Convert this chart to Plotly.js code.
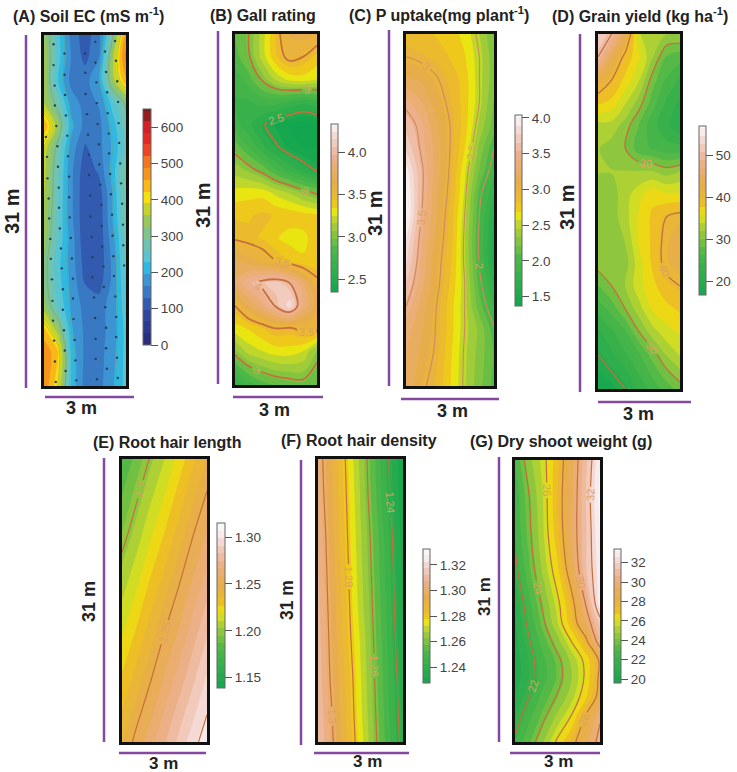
<!DOCTYPE html>
<html><head><meta charset="utf-8">
<script src="https://cdn.plot.ly/plotly-3.0.1.min.js"></script>
<style>html,body{margin:0;padding:0;background:#fff}#c{width:737px;height:772px}</style>
</head><body><div id="c"></div>
<script>
const W=737,H=772;
const xM=[0,0.5,1,1.5,2,2.5,3];
const yLong=[0,2,4,6,8,10,12,14,16,18,20,22,24,26,28,31];
const yFour=[0,4,8,12,16,20,24,28,31];
const yG=[0,4,8,12,16,18,20,22,24,26,28,31];

const zA=[
[340,240,150,115,150,290,470],
[350,245,160,120,160,345,500],
[350,230,150,150,190,340,450],
[360,280,180,150,165,240,310],
[450,340,205,150,150,210,280],
[380,285,180,125,150,200,270],
[370,270,170,110,135,210,300],
[360,265,170,105,110,195,300],
[350,260,170,105,105,195,290],
[340,255,180,105,105,180,280],
[320,240,180,115,105,170,270],
[320,245,185,130,115,170,260],
[340,260,190,150,150,175,250],
[430,340,200,155,150,175,240],
[480,430,215,155,150,180,240],
[480,400,220,150,150,190,240]];
const zB=[
[2.9,3.0,3.2,3.45,3.62,3.65,3.6],
[2.85,2.98,3.2,3.42,3.55,3.5,3.4],
[2.75,2.85,3.02,3.18,3.28,3.3,3.25],
[2.7,2.7,2.75,2.75,2.7,2.65,2.7],
[2.75,2.65,2.52,2.42,2.35,2.3,2.35],
[2.95,2.8,2.65,2.52,2.42,2.35,2.35],
[3.12,3.05,2.95,2.8,2.68,2.58,2.48],
[3.28,3.3,3.3,3.22,3.15,3.05,2.97],
[3.42,3.42,3.45,3.42,3.4,3.38,3.35],
[3.48,3.45,3.42,3.35,3.3,3.32,3.38],
[3.7,3.65,3.58,3.5,3.42,3.35,3.35],
[3.8,3.95,4.05,4.1,4.0,3.8,3.55],
[3.5,3.7,3.85,4.02,4.2,3.85,3.65],
[3.3,3.35,3.42,3.5,3.48,3.55,3.55],
[3.05,3.2,3.25,3.3,3.3,3.25,3.05],
[2.6,2.75,2.85,2.9,2.93,2.95,2.9]];
const zC=[
[2.85,2.85,2.8,2.75,2.65,2.45,2.2],
[3.0,2.95,2.9,2.8,2.7,2.5,2.25],
[3.2,3.15,3.03,2.9,2.75,2.5,2.25],
[3.45,3.3,3.12,2.95,2.75,2.5,2.2],
[3.6,3.45,3.2,3.0,2.75,2.42,2.15],
[3.75,3.48,3.25,3.0,2.7,2.3,2.0],
[3.95,3.55,3.25,2.98,2.6,2.2,1.9],
[4.05,3.55,3.22,2.95,2.55,2.05,1.75],
[4.05,3.52,3.2,2.9,2.5,2.0,1.6],
[3.9,3.45,3.15,2.88,2.47,1.97,1.55],
[3.8,3.4,3.1,2.85,2.47,1.98,1.55],
[3.65,3.35,3.08,2.8,2.5,2.05,1.7],
[3.5,3.25,3.02,2.75,2.5,2.15,1.85],
[3.35,3.2,3.0,2.75,2.5,2.3,2.02],
[3.3,3.15,2.98,2.72,2.48,2.28,2.08],
[3.3,3.05,2.92,2.7,2.47,2.25,2.05]];
const zD=[
[53,50,44,34,32,32,32],
[50,44,39,36,32,28,27],
[43,40,37,34,29,26,24],
[38,37,34,31,27,24,22],
[33,33,31,28,25,23,21],
[32,31,30,27,26,25,25],
[32,32,32,32,32,31,32],
[31,31,33,35,37,36,36],
[31,31,33,36,38,40,41],
[31,31,32,36,38,41,43],
[31,31,31,35,38,41,43],
[28,30,32,35,37,39,40],
[25,27,30,33,36,37,38],
[22,24,26,30,33,35,36],
[20,22,24,26,29,32,34],
[17,18,20,23,25,27,29]];
const zE=[
[1.179,1.190,1.201,1.211,1.222,1.233,1.243],
[1.187,1.198,1.209,1.219,1.230,1.241,1.251],
[1.195,1.206,1.217,1.227,1.238,1.249,1.259],
[1.204,1.214,1.225,1.235,1.246,1.257,1.267],
[1.212,1.222,1.233,1.244,1.254,1.265,1.276],
[1.220,1.230,1.241,1.252,1.262,1.273,1.284],
[1.228,1.238,1.249,1.260,1.270,1.281,1.292],
[1.236,1.247,1.257,1.268,1.279,1.289,1.300],
[1.242,1.253,1.264,1.274,1.285,1.296,1.306]];
const zF=[
[1.304,1.292,1.279,1.266,1.253,1.240,1.228],
[1.305,1.293,1.280,1.267,1.254,1.241,1.229],
[1.307,1.294,1.281,1.268,1.256,1.243,1.230],
[1.308,1.295,1.282,1.269,1.257,1.244,1.231],
[1.309,1.296,1.283,1.270,1.258,1.245,1.232],
[1.310,1.297,1.284,1.272,1.259,1.246,1.233],
[1.311,1.298,1.286,1.273,1.260,1.247,1.235],
[1.312,1.300,1.287,1.274,1.261,1.248,1.236],
[1.313,1.301,1.288,1.275,1.262,1.249,1.237]];
const zG=[
[22.9,24.6,25.7,27.2,29.1,31.1,33.2],
[22.4,24,25.5,27.4,29.2,31.3,33.5],
[22.2,23.8,25.4,27.2,29.3,31.2,33.3],
[21.7,23.4,25,26.6,28.8,31.2,33],
[21,22.6,24.2,25.7,27.5,30,32.9],
[20.8,22.3,23.8,25.4,27.2,29.2,31.5],
[20.7,21.9,23.2,24.5,26,27.6,30.7],
[20.5,21.6,22.7,23.7,25,26.3,28.2],
[20.5,21.6,22.6,23.6,24.8,26.2,28.3],
[20.9,22,23.1,24.1,25.2,26.6,28.5],
[21.4,22.6,23.7,24.9,26,28,29.8],
[22.2,23.4,24.8,26.2,27.6,29,30.4]];

const dotX=[.35,.75,.35,.75,.39,.77,.40,.80,.45,.85,.07,.49,1.5,1.51,1.52,1.57,1.61,1.88,1.88,1.92,1.93,1.96,2.01,2.23,2.27,2.31,2.33,2.37,2.6,2.63,2.68,2.71,2.73,2.75,
.11,.51,.13,.54,.17,.55,.19,.58,.23,.62,.25,.65,.88,.92,.92,.94,.98,1.02,1.64,1.65,1.69,1.7,1.74,1.77,2.02,2.06,2.1,2.11,2.13,2.18,2.38,2.42,2.45,2.49,2.51,2.54,2.79,2.82,2.86,2.89,2.9,2.93,
.29,.69,.31,.69,.33,.73,.37,.76,.4,.79,.43,1.06,1.06,1.08,1.12,1.15,1.18,1.77,1.83,1.87,1.89,1.89,1.94,2.19,2.24,2.27,2.27,2.3,2.56,2.61,2.64,2.64,2.67,2.7];
const dotY=[.82,1.64,2.66,3.51,4.47,5.29,6.23,7.11,8.04,8.89,9,9.82,1.64,3.33,5.2,6.99,8.8,.61,2.43,4.18,6.02,7.87,9.65,1.46,3.27,5.06,6.9,8.71,.53,2.28,4.09,5.91,7.78,9.53,
10.76,11.64,12.66,13.48,14.44,15.26,16.2,17.08,18.01,18.86,19.77,20.61,10.7,12.51,14.33,16.11,17.92,19.74,10.58,12.37,14.18,16.02,17.84,19.62,11.43,13.22,15,16.87,18.68,20.44,10.47,12.28,14.06,15.88,17.72,19.53,11.35,13.1,14.91,16.75,18.57,20.35,
21.58,22.46,23.48,24.27,25.23,26.08,26.99,27.87,28.83,29.68,30.64,21.52,23.27,25.09,26.93,28.74,30.5,21.4,23.19,25,26.84,28.6,30.41,22.25,24.04,25.85,27.67,29.47,21.29,23.1,24.91,26.67,28.51,30.29];

const jet=[[0,'#262a78'],[0.077,'#2c3a8e'],[0.154,'#2f4ea5'],[0.23,'#3a7bc4'],[0.27,'#3f8fd0'],[0.308,'#29b5e6'],[0.346,'#3cbcd8'],[0.385,'#62c5cf'],[0.46,'#78c29a'],[0.54,'#a2c84a'],[0.577,'#c8d42a'],[0.615,'#f4e80e'],[0.654,'#fbc814'],[0.692,'#f8a91c'],[0.77,'#f47a20'],[0.81,'#ee5224'],[0.846,'#ed2f24'],[0.923,'#d51f26'],[0.96,'#a81e22'],[1,'#701818']];
const terrain=[[0,'#12a650'],[0.25,'#4db748'],[0.38,'#9ccb3b'],[0.44,'#c5d92b'],[0.48,'#ece60f'],[0.53,'#eec31d'],[0.6,'#e9b53a'],[0.67,'#e8ac4e'],[0.8,'#edb08e'],[0.92,'#f3d6d0'],[1,'#f8f6f6']];

// panel: frame l,r,t,b; colourbar l,w,t,b
const panels=[
 {id:'',  z:zA,y:yLong,lo:0,hi:650,step:32.5,cs:jet,box:[44,126,35,386],cb:[143,8,109,345],tv:[0,100,200,300,400,500,600],tt:['0','100','200','300','400','500','600'],ls:200,le:500,lstep:100,lc:'rgba(120,150,90,0.55)',lw:0.8,lab:false},
 {id:'2', z:zB,y:yLong,lo:2.35,hi:4.33,step:0.09,cs:terrain,box:[235,317,34,385],cb:[331,7,124,292],tv:[2.5,3,3.5,4],tt:['2.5','3.0','3.5','4.0'],ls:2.5,le:4.001,lstep:0.5,lc:'#c56f3e',lw:1.8,lab:true},
 {id:'3', z:zC,y:yLong,lo:1.37,hi:4.04,step:0.12,cs:terrain,box:[406,494,34,386],cb:[515,7,115,306],tv:[1.5,2,2.5,3,3.5,4],tt:['1.5','2.0','2.5','3.0','3.5','4.0'],ls:2,le:3.501,lstep:0.5,lc:'#cf8a5a',lw:1.1,lab:true},
 {id:'4', z:zD,y:yLong,lo:16.7,hi:57,step:1.9,cs:terrain,box:[598,680,34,389],cb:[699,7,126,295],tv:[20,30,40,50],tt:['20','30','40','50'],ls:20,le:50,lstep:10,lc:'#c56f3e',lw:1.3,lab:true},
 {id:'5', z:zE,y:yFour,lo:1.139,hi:1.315,step:0.008,cs:terrain,box:[122,207,459,742],cb:[217,8,523,688],tv:[1.15,1.2,1.25,1.3],tt:['1.15','1.20','1.25','1.30'],ls:1.2,le:1.3001,lstep:0.05,lc:'#c56f3e',lw:1.2,lab:true},
 {id:'6', z:zF,y:yFour,lo:1.2275,hi:1.3325,step:0.005,cs:terrain,box:[318,403,459,742],cb:[423,7,549,683],tv:[1.24,1.26,1.28,1.3,1.32],tt:['1.24','1.26','1.28','1.30','1.32'],ls:1.24,le:1.3001,lstep:0.02,lc:'#c56f3e',lw:1.2,lab:true},
 {id:'7', z:zG,y:yG,lo:19.6,hi:33.4,step:0.65,cs:terrain,box:[515,600,460,742],cb:[614,7,549,683],tv:[20,22,24,26,28,30,32],tt:['20','22','24','26','28','30','32'],ls:22,le:32.01,lstep:2,lc:'#c56f3e',lw:1.2,lab:true}
];
const titles=[
 ['(A) Soil EC (mS m<sup>-1</sup>)',11,15],['(B) Gall rating',208,16],['(C) P uptake(mg plant<sup>-1</sup>)',347,14],['(D) Grain yield (kg ha<sup>-1</sup>)',550,15],
 ['(E) Root hair length',91,442],['(F) Root hair density',279,440],['(G) Dry shoot weight (g)',468,441]];
const side=[[12,211,20],[203,205,20],[375,213,20],[567,207,20],[89,602,18],[287,600,17.5],[484,597,17]];
const under=[[81,408,18],[274,410,18],[452,411,18],[638,414,18],[163,763,17],[367,761,17],[558,761,17]];
const vBars=[[26,35,388],[218,31,384],[389,30,386],[580,34,392],[104,458,742],[301,460,745],[499,457,742]];
const hBars=[[397,45,134],[397,233,323],[399,401,499],[402,598,691],[753,119,206],[753,314,409],[753,510,600]];

const FONT='"Liberation Sans",Arial,sans-serif';
const fx=p=>p/W, fy=p=>1-p/H;
const traces=[], layout={width:W,height:H,margin:{l:0,r:0,t:0,b:0,pad:0,autoexpand:false},paper_bgcolor:'#fff',plot_bgcolor:'#fff',showlegend:false,annotations:[],shapes:[],font:{family:FONT}};

panels.forEach(p=>{
  const [l,r,t,b]=p.box,[cl,cw,ct,cb]=p.cb;
  const xa='x'+p.id, ya='y'+p.id;
  traces.push({type:'contour',x:xM,y:p.y,z:p.z,xaxis:xa,yaxis:ya,zauto:false,zmin:p.lo,zmax:p.hi,colorscale:p.cs,autocontour:false,
    contours:{coloring:'fill',start:p.lo,end:p.hi,size:p.step,showlines:false},line:{width:0,smoothing:1},hoverinfo:'skip',
    colorbar:{x:fx(cl),xanchor:'left',xpad:0,y:fy(cb),yanchor:'bottom',ypad:0,len:cb-ct,lenmode:'pixels',thickness:cw,thicknessmode:'pixels',
      outlinecolor:'#666',outlinewidth:1,borderwidth:0,ticks:'outside',ticklen:7,tickwidth:1,tickcolor:'#555',tickmode:'array',tickvals:p.tv,ticktext:p.tt,
      tickfont:{family:FONT,size:13.5,color:'#444'}}});
  traces.push({type:'contour',x:xM,y:p.y,z:p.z,xaxis:xa,yaxis:ya,showscale:false,autocontour:false,hoverinfo:'skip',
    contours:{coloring:'none',start:p.ls,end:p.le,size:p.lstep,showlabels:p.lab,labelfont:{family:FONT,size:11,color:'#dfa15f'}},
    line:{color:p.lc,width:p.lw,smoothing:1}});
  const axis={showgrid:false,zeroline:false,showticklabels:false,ticks:'',showline:true,mirror:true,linecolor:'#111',linewidth:3};
  layout['xaxis'+p.id]=Object.assign({},axis,{domain:[fx(l),fx(r)],range:[0,3],anchor:ya});
  layout['yaxis'+p.id]=Object.assign({},axis,{domain:[fy(b),fy(t)],range:[31,0],anchor:xa});
});
traces.push({type:'scatter',mode:'markers',x:dotX,y:dotY,xaxis:'x',yaxis:'y',marker:{size:2.4,color:'#24405f'},hoverinfo:'skip'});

const ann=(text,x,y,size,extra)=>layout.annotations.push(Object.assign({text,xref:'paper',yref:'paper',x:fx(x),y:fy(y),showarrow:false,yanchor:'middle',xanchor:'center',font:{family:FONT,size,color:'#222'}},extra||{}));
titles.forEach(t=>ann('<b>'+t[0]+'</b>',t[1],t[2],16,{xanchor:'left'}));
side.forEach(s=>ann('<b>31 m</b>',s[0],s[1],s[2],{textangle:-90}));
under.forEach(u=>ann('<b>3 m</b>',u[0],u[1],u[2]));
const bar=(x0,y0,x1,y1)=>layout.shapes.push({type:'line',xref:'paper',yref:'paper',x0:fx(x0),y0:fy(y0),x1:fx(x1),y1:fy(y1),line:{color:'#84489f',width:2.5}});
vBars.forEach(v=>bar(v[0],v[1],v[0],v[2]));
hBars.forEach(h=>bar(h[1],h[0],h[2],h[0]));
Plotly.newPlot('c',traces,layout,{displayModeBar:false,staticPlot:true});
</script></body></html>
